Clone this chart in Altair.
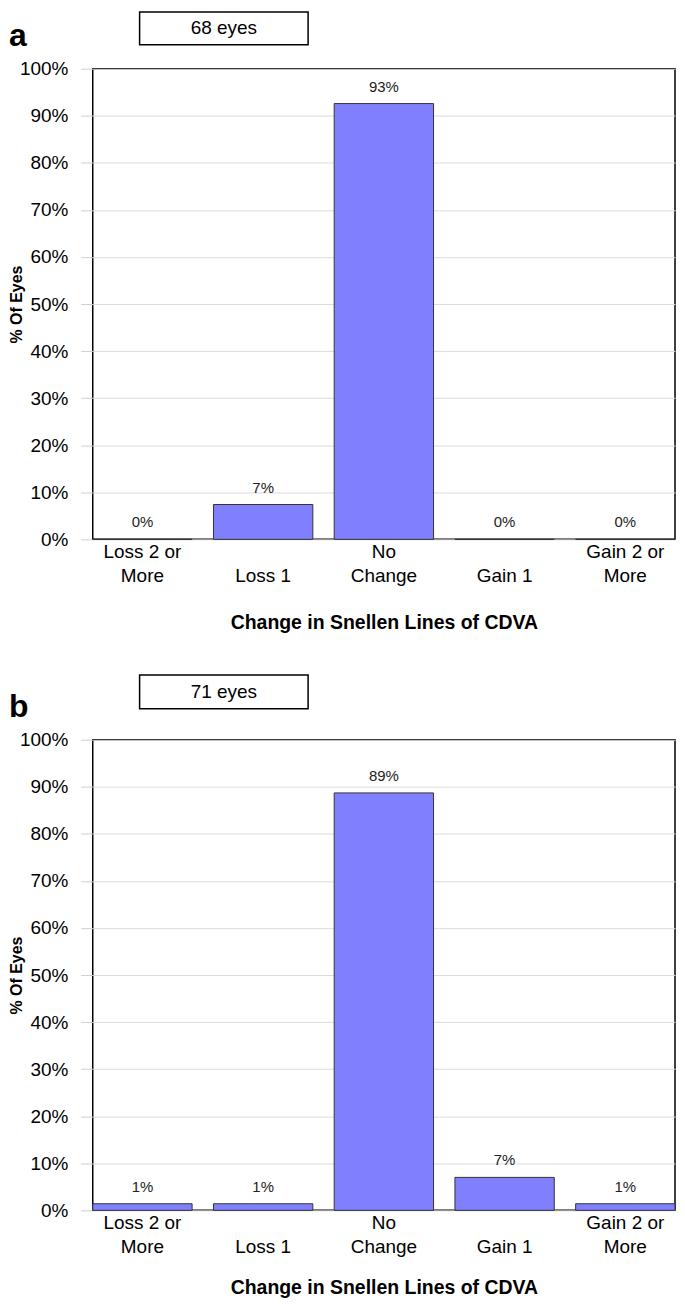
import altair as alt
import pandas as pd

categories = ["Loss 2 or More", "Loss 1", "No Change", "Gain 1", "Gain 2 or More"]
label_line1 = ["Loss 2 or", "", "No", "", "Gain 2 or"]
label_line2 = ["More", "Loss 1", "Change", "Gain 1", "More"]
pct_a = [0.0, 7.4, 92.6, 0.0, 0.0]
pct_b = [1.4, 1.4, 88.7, 7.0, 1.4]
y_ticks = [0, 10, 20, 30, 40, 50, 60, 70, 80, 90, 100]
eyes_a = "68 eyes"
eyes_b = "71 eyes"

W, H = 584, 472
BAR = "#8080FF"
FONT = "Liberation Sans"

# build label expression (two-line axis labels)
expr = "['', datum.value]"
for c, l1, l2 in zip(categories, label_line1, label_line2):
    expr = f"datum.value == '{c}' ? ['{l1}', '{l2}'] : " + expr


def panel(pcts, eyes, letter, box_top, box_bottom, letter_base, title_y):
    df = pd.DataFrame({"cat": categories, "pct": pcts})
    df["lbl"] = [f"{round(p):.0f}%" for p in pcts]
    x = alt.X("cat:N", sort=categories,
              scale=alt.Scale(paddingInner=0.177, paddingOuter=0),
              axis=alt.Axis(title="Change in Snellen Lines of CDVA", labelAngle=0,
                            labelExpr=expr, labelFontSize=19, labelLineHeight=24,
                            labelPadding=3, ticks=False, domain=False, labelColor="#000",
                            titleFontSize=19.5, titleFontWeight="bold", titleY=title_y,
                            titleBaseline="middle", titleColor="#000"))
    y = alt.Y("pct:Q", scale=alt.Scale(domain=[0, 100], nice=False),
              axis=alt.Axis(title="% Of Eyes", values=y_ticks,
                            labelExpr="datum.value + '%'", labelFontSize=19,
                            labelColor="#000", tickSize=12, tickColor="#cfcfcf",
                            labelPadding=13, gridColor="#dcdcdc", domain=False,
                            titleFontSize=16, titleFontWeight="bold", titleColor="#000",
                            titleX=-76, titleY=H / 2, titleAngle=270,
                            titleBaseline="middle", titleAlign="center"))
    base = alt.Chart(df)
    bars = base.mark_bar(color=BAR, stroke="#333333", strokeWidth=1).encode(x=x, y=y)
    vals = base.mark_text(fontSize=15, baseline="bottom", dy=-9, color="#222").encode(
        x=alt.X("cat:N", sort=categories), y="pct:Q", text="lbl:N")
    one = alt.Data(values=[{"t": eyes, "l": letter}])
    box = alt.Chart(one).mark_rect(fill="white", stroke="#000", strokeWidth=1.5).encode(
        x=alt.value(47), x2=alt.value(216), y=alt.value(box_top), y2=alt.value(box_bottom))
    box_txt = alt.Chart(one).mark_text(fontSize=19, baseline="middle", align="center",
                                       color="#000").encode(
        x=alt.value(131.5), y=alt.value((box_top + box_bottom) / 2), text="t:N")
    let = alt.Chart(one).mark_text(fontSize=32, fontWeight="bold", align="left",
                                   baseline="alphabetic", color="#000").encode(
        x=alt.value(-84), y=alt.value(letter_base), text="l:N")
    return alt.layer(bars, vals, box, box_txt, let).properties(width=W, height=H)


pa = panel(pct_a, eyes_a, "a", -57, -24, -23, 83)
pb = panel(pct_b, eyes_b, "b", -65, -31, -23, 77)

chart = alt.vconcat(
    pa, pb, spacing=201, bounds="flush",
    padding={"left": 0, "top": 0, "right": 0, "bottom": 0}
).configure(
    font=FONT
).configure_view(stroke="#000", strokeWidth=1.5).configure_axis(
    labelFont=FONT, titleFont=FONT
)

chart.save("out.html", embed_options={"renderer": "svg", "actions": False})
